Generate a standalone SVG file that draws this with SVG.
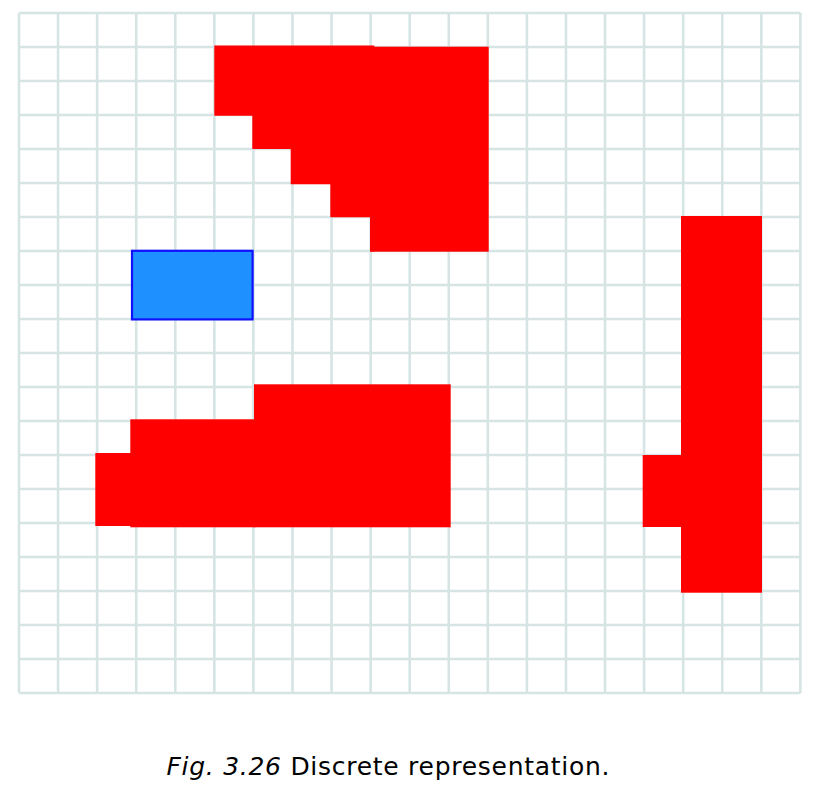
<svg xmlns="http://www.w3.org/2000/svg" width="827" height="787" viewBox="0 0 827 787">
<style>
.grid{stroke:#d6e4e4;stroke-width:2.6;fill:none}
.red{fill:#ff0000;stroke:none}
.blue{fill:#1e90ff;stroke:#1010ff;stroke-width:2.2}
.cap{font-family:"DejaVu Sans",sans-serif;font-size:25px;fill:#000}
</style>
<rect width="827" height="787" fill="#fff"/>
<g id="grid">
<path class="grid" d="M19,13V693M58.07,13V693M97.14,13V693M136.21,13V693M175.28,13V693M214.35,13V693M253.42,13V693M292.49,13V693M331.56,13V693M370.63,13V693M409.7,13V693M448.77,13V693M487.84,13V693M526.91,13V693M565.98,13V693M605.05,13V693M644.12,13V693M683.19,13V693M722.26,13V693M761.33,13V693M800.4,13V693"/>
<path class="grid" d="M19,13H800.4M19,47H800.4M19,81H800.4M19,115H800.4M19,149H800.4M19,183H800.4M19,217H800.4M19,251H800.4M19,285H800.4M19,319H800.4M19,353H800.4M19,387H800.4M19,421H800.4M19,455H800.4M19,489H800.4M19,523H800.4M19,557H800.4M19,591H800.4M19,625H800.4M19,659H800.4M19,693H800.4"/>
</g>
<g id="obstacle-top">
<polygon class="red" points="214.3,45.6 374.3,45.6 374.3,251.5 370,251.5 370,217.3 330.3,217.3 330.3,184.3 290.7,184.3 290.7,149 252.3,149 252.3,115.7 214.3,115.7"/>
<rect class="red" x="370" y="46.7" width="118.7" height="205"/>
</g>
<g id="robot">
<rect class="blue" x="132" y="250.8" width="120.6" height="68.6"/>
</g>
<g id="obstacle-bottom">
<rect class="red" x="95.3" y="453" width="36" height="73"/>
<rect class="red" x="130.3" y="419.3" width="125" height="108"/>
<rect class="red" x="254" y="384.3" width="196.7" height="143"/>
</g>
<g id="obstacle-right">
<rect class="red" x="642.7" y="455" width="39.3" height="72"/>
<rect class="red" x="681" y="216" width="81" height="376.7"/>
</g>
<text class="cap" x="166.5" y="775" textLength="443" lengthAdjust="spacing"><tspan font-style="italic">Fig. 3.26</tspan> Discrete representation.</text>
</svg>
